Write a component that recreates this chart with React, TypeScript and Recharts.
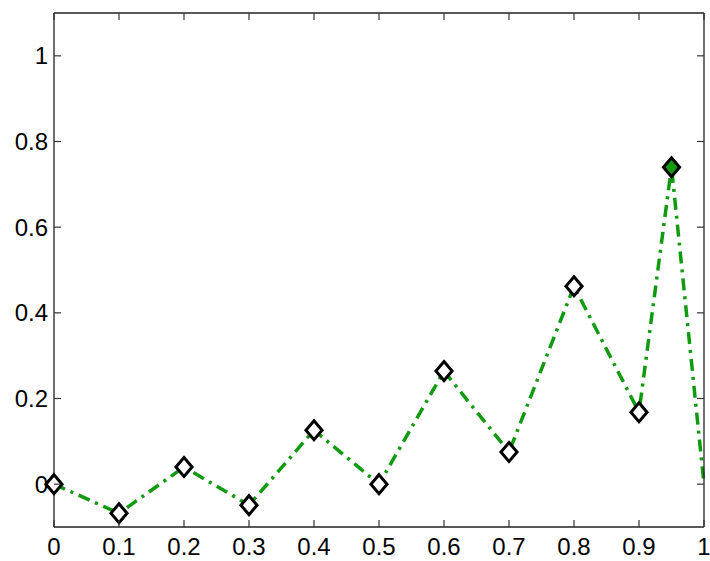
import React from "react";
import { LineChart, Line, XAxis, YAxis } from "recharts";

// values
const xValues = [0, 0.1, 0.2, 0.3, 0.4, 0.5, 0.6, 0.7, 0.8, 0.9, 0.95, 1];
const yValues = [0, -0.068, 0.04, -0.049, 0.126, 0, 0.264, 0.075, 0.462, 0.168, 0.74, 0];
// "open" diamond, "filled" diamond, or none
const markers = ["open", "open", "open", "open", "open", "open", "open", "open", "open", "open", "filled", "none"];

const xTicks = [0, 0.1, 0.2, 0.3, 0.4, 0.5, 0.6, 0.7, 0.8, 0.9, 1];
const xTickLabels = ["0", "0.1", "0.2", "0.3", "0.4", "0.5", "0.6", "0.7", "0.8", "0.9", "1"];
const yTicks = [0, 0.2, 0.4, 0.6, 0.8, 1];
const yTickLabels = ["0", "0.2", "0.4", "0.6", "0.8", "1"];

const data = xValues.map((x, i) => ({ x, y: yValues[i], m: markers[i] }));

const GREEN = "#0f9a0f";
const FONT = "'Liberation Sans', Arial, Helvetica, sans-serif";
const TICK_COLOR = "#333";
const FONT_SIZE = 24;

const label = (ticks: number[], labels: string[], v: number) => {
  const i = ticks.findIndex((t) => Math.abs(t - v) < 1e-9);
  return i >= 0 ? labels[i] : String(v);
};

// tickSize 6 + tickMargin 0 => axis line sits 6px right of x
const LeftTick = (props: any) => {
  const { x, y, payload } = props;
  return (
    <g>
      <line x1={x + 6} x2={x + 13} y1={y} y2={y} stroke={TICK_COLOR} strokeWidth={1.2} />
      <text x={x} y={y} textAnchor="end" dominantBaseline="central" fontSize={FONT_SIZE} fontFamily={FONT} fill="#000">
        {label(yTicks, yTickLabels, payload.value)}
      </text>
    </g>
  );
};

// tickSize 6 + tickMargin 0 => axis line sits 6px left of x
const RightTick = (props: any) => {
  const { x, y } = props;
  return <line x1={x - 6} x2={x - 13} y1={y} y2={y} stroke={TICK_COLOR} strokeWidth={1.2} />;
};

// tickSize 6 + tickMargin 5 => axis line sits 11px above y
const BottomTick = (props: any) => {
  const { x, y, payload } = props;
  return (
    <g>
      <line x1={x} x2={x} y1={y - 11} y2={y - 18} stroke={TICK_COLOR} strokeWidth={1.2} />
      <text x={x} y={y} dy="0.72em" textAnchor="middle" fontSize={FONT_SIZE} fontFamily={FONT} fill="#000">
        {label(xTicks, xTickLabels, payload.value)}
      </text>
    </g>
  );
};

// tickSize 6 + tickMargin 0 => axis line sits 6px below y
const TopTick = (props: any) => {
  const { x, y } = props;
  return <line x1={x} x2={x} y1={y + 6} y2={y + 13} stroke={TICK_COLOR} strokeWidth={1.2} />;
};

const Diamond = (props: any) => {
  const { cx, cy, payload, index } = props;
  if (payload.m === "none" || cx == null || cy == null) return <g key={index} />;
  const r = 9.5;
  return (
    <path
      key={index}
      d={`M${cx},${cy - r} L${cx + r * 0.85},${cy} L${cx},${cy + r} L${cx - r * 0.85},${cy} Z`}
      fill={payload.m === "filled" ? GREEN : "#fff"}
      stroke="#000"
      strokeWidth={3}
    />
  );
};

const axisLine = { stroke: "#222", strokeWidth: 1.3 };

export default function App() {
  return (
    <div style={{ position: "absolute", left: 0, top: 0, background: "#fff" }}>
      <LineChart width={710} height={561} data={data} margin={{ top: 3, right: 0, bottom: 0, left: 0 }}>
        <XAxis
          xAxisId="b"
          dataKey="x"
          type="number"
          domain={[0, 1]}
          ticks={xTicks}
          interval={0}
          height={34}
          tickMargin={5}
          axisLine={axisLine}
          tickLine={false}
          tick={<BottomTick />}
        />
        <XAxis
          xAxisId="t"
          orientation="top"
          dataKey="x"
          type="number"
          domain={[0, 1]}
          ticks={xTicks}
          interval={0}
          height={10}
          tickMargin={0}
          axisLine={axisLine}
          tickLine={false}
          tick={<TopTick />}
        />
        <YAxis
          yAxisId="l"
          type="number"
          domain={[-0.1, 1.1]}
          ticks={yTicks}
          interval={0}
          width={54}
          tickMargin={0}
          axisLine={axisLine}
          tickLine={false}
          allowDataOverflow
          tick={<LeftTick />}
        />
        <YAxis
          yAxisId="r"
          orientation="right"
          type="number"
          domain={[-0.1, 1.1]}
          ticks={yTicks}
          interval={0}
          width={6}
          tickMargin={0}
          axisLine={axisLine}
          tickLine={false}
          allowDataOverflow
          tick={<RightTick />}
        />
        {/* invisible series so the top/right frame axes are rendered */}
        <Line
          xAxisId="t"
          yAxisId="r"
          dataKey="y"
          stroke="none"
          dot={false}
          activeDot={false}
          legendType="none"
          isAnimationActive={false}
        />
        <Line
          xAxisId="b"
          yAxisId="l"
          dataKey="y"
          type="linear"
          stroke={GREEN}
          strokeWidth={3.5}
          strokeDasharray="12 6 3 6"
          dot={Diamond}
          activeDot={false}
          isAnimationActive={false}
        />
      </LineChart>
    </div>
  );
}
